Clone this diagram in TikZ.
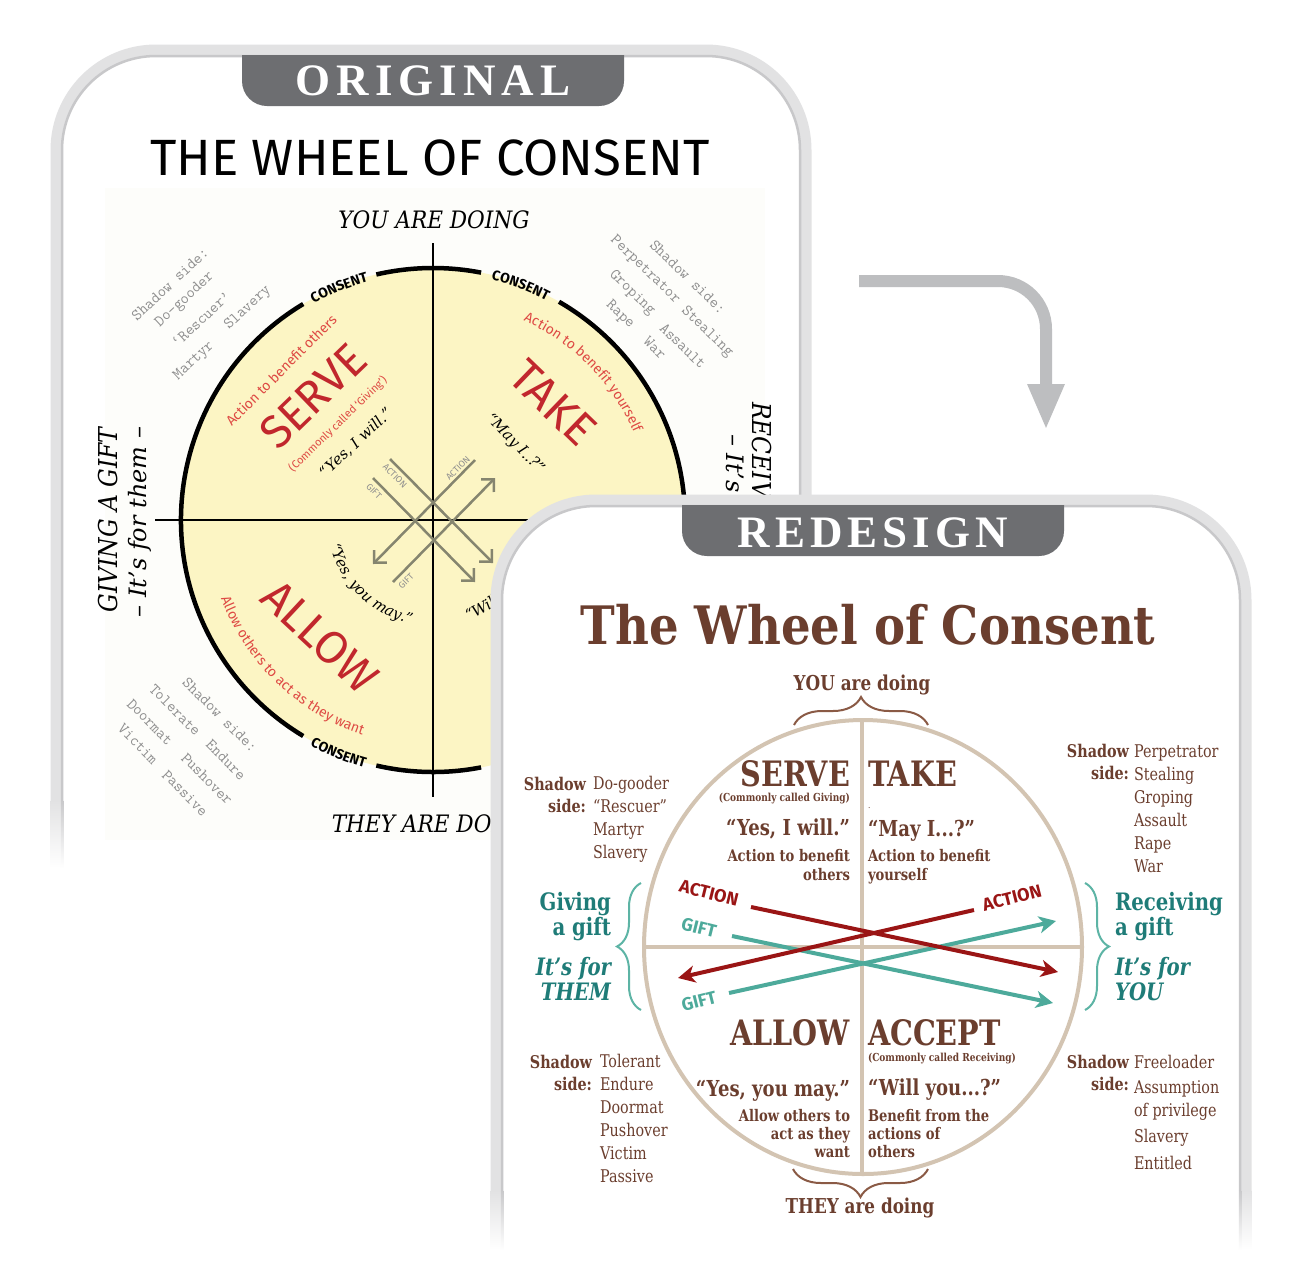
\documentclass[tikz,border=0pt]{standalone}
\usepackage{fontspec}
\setmainfont{DejaVu Serif}
\newfontfamily\libser{Liberation Serif}
\newfontfamily\fira{Fira Sans}
\usetikzlibrary{arrows.meta,decorations.text,decorations.pathreplacing}
\definecolor{brn}{HTML}{6B3E2E}
\definecolor{bracebrn}{HTML}{8A5A45}
\definecolor{tealT}{HTML}{1F7C78}
\definecolor{tealA}{HTML}{4DAA9B}
\definecolor{tealB}{HTML}{5DB4A5}
\definecolor{redA}{HTML}{9A1515}
\definecolor{tanw}{HTML}{D3C4B2}
\definecolor{tabgray}{HTML}{6D6E71}
\definecolor{rimlight}{HTML}{E2E2E3}
\definecolor{rimdark}{HTML}{C8C8CA}
\definecolor{arrowgray}{HTML}{BDBEC0}
\definecolor{wheelY}{HTML}{FCF5C4}
\definecolor{redO}{HTML}{C1272D}
\definecolor{redL}{HTML}{DE4A44}
\definecolor{shgray}{HTML}{8E8E8E}
\definecolor{olivegray}{HTML}{85856F}
\definecolor{cream}{HTML}{FDFDFA}
\newcommand\fsz[1]{\fontsize{#1}{#1}\selectfont}
\begin{document}
\begin{tikzpicture}[x=1pt,y=1pt,
  every node/.style={inner sep=0pt,outer sep=0pt},
  rimL/.style={draw=rimlight,line width=11pt},
  rimD/.style={draw=rimdark,line width=2.5pt},
  tablbl/.style={text=white,font=\libser\bfseries\fsz{45}},
  shd/.style={text=shgray,font=\ttfamily\fsz{16}},
  oq/.style={text=black,font=\itshape\fsz{15}},
  obig/.style={text=redO,font=\fira\fsz{46}},
  osm/.style={text=redL,font=\fira\fsz{14}},
  olab/.style={text=shgray,font=\fira\fsz{9}},
  oarr/.style={draw=olivegray,line width=2.5pt,-{Straight Barb[length=9pt,width=18pt]}},
  rd/.style={text=brn,xscale=0.82},
  rbig/.style={rd,font=\bfseries\fsz{35}},
  rsub/.style={rd,font=\bfseries\fsz{11}},
  rquote/.style={rd,font=\bfseries\fsz{22}},
  ract/.style={rd,font=\bfseries\fsz{16}},
  rshl/.style={rd,font=\bfseries\fsz{17.5}},
  rshi/.style={rd,font=\fsz{17.5}},
  rdo/.style={rd,font=\bfseries\fsz{20.5}},
  rteal/.style={text=tealT,xscale=0.82,font=\bfseries\fsz{24}},
  rtealit/.style={text=tealT,xscale=0.82,font=\bfseries\itshape\fsz{24}},
  arrlbl/.style={font=\fira\bfseries\fsz{18}},
  rarr/.style={line width=4pt,-{Stealth[length=17pt,width=17pt,inset=5pt]}},
  tbrace/.style={draw=bracebrn,line width=2pt,decorate,decoration={brace,amplitude=28pt}},
  sbrace/.style={draw=tealB,line width=2pt,decorate,decoration={brace,amplitude=24pt}},
  cons/.style={decorate,decoration={text along path,text align=center,text={|\fira\bfseries\fsz{14}|CONSENT}}}
]
\fill[white] (0,0) rectangle (1301,-1283);
\useasboundingbox (0,0) rectangle (1301,-1283);

% ================= ORIGINAL CARD =================
\path[rimL,rounded corners=100pt] (56,-800) -- (56,-50) -- (806,-50) -- (806,-800);
\path[rimD,rounded corners=94pt] (62,-800) -- (62,-56) -- (800,-56) -- (800,-800);
\shade[top color=rimlight,bottom color=white] (50.5,-800) rectangle (61.5,-868);
\shade[top color=rimdark,bottom color=white] (60.75,-800) rectangle (63.25,-868);

\begin{scope}
\clip (242,-55) rectangle (624,-110);
\fill[tabgray,rounded corners=25pt] (242,-20) rectangle (624,-106);
\end{scope}
\node[tablbl,anchor=base] (origlbl) at (433,-95) {O\kern6pt R\kern6pt I\kern6pt G\kern6pt I\kern6pt N\kern6pt A\kern6pt L};

\node[font=\fira\fsz{51},anchor=base] (otitle) at (430,-175) {THE WHEEL OF CONSENT};

\fill[cream] (105,-188) rectangle (765,-840);

% wheel
\fill[wheelY] (433,-520) circle[radius=252pt];
\begin{scope}[shift={(433,-520)}]
\draw[line width=4.5pt] (121:252pt) arc[start angle=121,end angle=239,radius=252pt];
\draw[line width=4.5pt] (79:252pt) arc[start angle=79,end angle=103,radius=252pt];
\draw[line width=4.5pt] (-60:252pt) arc[start angle=-60,end angle=60,radius=252pt];
\draw[line width=4.5pt] (-103:252pt) arc[start angle=-103,end angle=-79,radius=252pt];
\path[cons] (125:247pt) arc[start angle=125,end angle=99,radius=247pt];
\path[cons] (83:247pt) arc[start angle=83,end angle=56,radius=247pt];
\path[cons] (-125:257pt) arc[start angle=-125,end angle=-99,radius=257pt];
\path[cons] (-82:257pt) arc[start angle=-82,end angle=-56,radius=257pt];
\end{scope}
\draw[line width=2pt] (155,-520) -- (700,-520);
\draw[line width=2pt] (433,-243) -- (433,-797);

% red quadrant texts
\node[obig,rotate=44] (serveO) at (313,-396) {SERVE};
\node[obig,rotate=-44] (takeO) at (553,-403) {TAKE};
\node[obig,rotate=-43] (allowO) at (320,-637) {ALLOW};
\node[text=redL,font=\fira\fsz{11},rotate=44] (serveSub) at (338,-424) {(Commonly called ‘Giving’)};
\node[osm,rotate=45] (serveAct) at (281,-370) {Action to benefit others};
\begin{scope}[shift={(433,-520)}]
\path[decorate,decoration={text along path,text align=center,text color=redL,text={|\fira\fsz{14}|Action to benefit yourself}}]
  (75:219pt) arc[start angle=75,end angle=14,radius=219pt];
\path[decorate,decoration={text along path,text align=center,text color=redL,text={|\fira\fsz{14}|Allow others to act as they want}}]
  (-172:226pt) arc[start angle=-172,end angle=-96,radius=226pt];
\path[decorate,decoration={text along path,text align=center,text={|\itshape\fsz{15}|“Yes, you may.”}}]
  (-178:106pt) arc[start angle=-178,end angle=-90,radius=106pt];
\path[decorate,decoration={text along path,text align=center,text={|\itshape\fsz{15}|“Will you...?”}}]
  (-88:106pt) arc[start angle=-88,end angle=0,radius=106pt];
\end{scope}
\node[oq,rotate=43] (yesO) at (356,-443) {“Yes, I will.”};
\node[oq,rotate=-46] (mayO) at (515,-444) {“May I..?”};

% original arrows
\coordinate (oa1s) at (390,-459); \coordinate (oa1e) at (493,-563);
\coordinate (og1s) at (373,-478); \coordinate (og1e) at (475,-582);
\coordinate (oa2s) at (475,-460); \coordinate (oa2e) at (373,-564);
\coordinate (og2s) at (393,-582); \coordinate (og2e) at (495,-478);
\draw[oarr] (oa1s) -- (oa1e);
\draw[oarr] (og1s) -- (og1e);
\draw[oarr] (oa2s) -- (oa2e);
\draw[oarr] (og2s) -- (og2e);
\node[olab,rotate=-45] (oal1) at (395,-476) {ACTION};
\node[olab,rotate=-45] (ogl1) at (374,-491) {GIFT};
\node[olab,rotate=45] (oal2) at (458,-468) {ACTION};
\node[olab,rotate=45] (ogl2) at (406,-581) {GIFT};

% shadow sides (original)
\node[shd,rotate=43] (os1) at (170,-284) {Shadow side:};
\node[shd,rotate=43] (os2) at (185,-300) {Do-gooder};
\node[shd,rotate=43] (os3) at (201,-319) {‘Rescuer’};
\node[shd,rotate=43] (os4) at (194,-361) {Martyr};
\node[shd,rotate=43] (os5) at (248,-308) {Slavery};
\node[shd,rotate=-44] (ot1) at (688,-277) {Shadow side:};
\node[shd,rotate=-44] (ot2) at (645,-270) {Perpetrator};
\node[shd,rotate=-44] (ot3) at (707,-332) {Stealing};
\node[shd,rotate=-44] (ot4) at (632,-293) {Groping};
\node[shd,rotate=-44] (ot5) at (683,-346) {Assault};
\node[shd,rotate=-44] (ot6) at (620,-315) {Rape};
\node[shd,rotate=-44] (ot7) at (655,-348) {War};
\node[shd,rotate=-45] (ob1) at (220,-715) {Shadow side:};
\node[shd,rotate=-45] (ob2) at (175,-710) {Tolerate};
\node[shd,rotate=-45] (ob3) at (226,-760) {Endure};
\node[shd,rotate=-45] (ob4) at (150,-722) {Doormat};
\node[shd,rotate=-45] (ob5) at (207,-779) {Pushover};
\node[shd,rotate=-45] (ob6) at (138,-744) {Victim};
\node[shd,rotate=-45] (ob7) at (185,-793) {Passive};

% axis labels (original)
\node[font=\itshape\fsz{24},xscale=0.9,anchor=base] (youO) at (434,-228) {YOU ARE DOING};
\node[font=\itshape\fsz{24},xscale=0.9,anchor=base] (theyO) at (434,-832) {THEY ARE DOING};
\node[font=\itshape\fsz{26},rotate=90,xscale=0.9] (giveO) at (108,-520) {GIVING A GIFT};
\node[font=\itshape\fsz{24},rotate=90] (themO) at (140,-522) {– It’s for them –};
\node[font=\itshape\fsz{26},rotate=-90,xscale=0.9] (recvO) at (762,-520) {RECEIVING A GIFT};
\node[font=\itshape\fsz{24},rotate=-90] (foryouO) at (733,-520) {– It’s for you –};

% ================= REDESIGN CARD =================
\fill[white,rounded corners=100pt] (496,-1283) -- (496,-500) -- (1246,-500) -- (1246,-1283) -- cycle;
\path[rimL,rounded corners=100pt] (496,-1190) -- (496,-500) -- (1246,-500) -- (1246,-1190);
\path[rimD,rounded corners=94pt] (502,-1190) -- (502,-506) -- (1240,-506) -- (1240,-1190);
\shade[top color=rimlight,bottom color=white] (490.5,-1190) rectangle (501.5,-1250);
\shade[top color=rimdark,bottom color=white] (500.75,-1190) rectangle (503.25,-1250);
\shade[top color=rimlight,bottom color=white] (1240.5,-1190) rectangle (1251.5,-1250);
\shade[top color=rimdark,bottom color=white] (1238.75,-1190) rectangle (1241.25,-1250);

\begin{scope}
\clip (682,-505) rectangle (1064,-560);
\fill[tabgray,rounded corners=25pt] (682,-470) rectangle (1064,-556);
\end{scope}
\node[tablbl,anchor=base] (redlbl) at (873,-547) {R\kern5pt E\kern5pt D\kern5pt E\kern5pt S\kern5pt I\kern5pt G\kern5pt N};

\node[text=brn,font=\bfseries\fsz{53},xscale=0.88,anchor=base] (rtitle) at (868,-644) {The Wheel of Consent};

% wheel
\draw[tanw,line width=4pt] (863,-947) ellipse[x radius=219pt,y radius=227pt];
\draw[tanw,line width=3.5pt] (644,-947) -- (1082,-947);
\draw[tanw,line width=3.5pt] (862,-720) -- (862,-1174);

% braces
\draw[tbrace] (794,-725) -- (928,-725);
\draw[tbrace] (928,-1169) -- (793,-1169);
\draw[sbrace] (641,-1010) -- (641,-883);
\draw[sbrace] (1085,-883) -- (1085,-1010);
\node[rdo,anchor=base] (youdo) at (862,-690) {YOU are doing};
\node[rdo,anchor=base] (theydo) at (860,-1213) {THEY are doing};

% quadrant texts
\node[rbig,anchor=base east] (serve) at (850,-786) {SERVE};
\node[rbig,anchor=base west] (take) at (868,-786) {TAKE};
\node[rsub,anchor=base east] (serveS) at (850,-801) {(Commonly called Giving)};
\node[rd,font=\fsz{9},anchor=base west] (dotT) at (868,-808) {.};
\node[rquote,anchor=base east] (yesw) at (850,-835) {“Yes, I will.”};
\node[rquote,anchor=base west] (mayi) at (868,-836) {“May I...?”};
\node[ract,anchor=base east] (sa1) at (850,-861) {Action to benefit};
\node[ract,anchor=base east] (sa2) at (850,-880) {others};
\node[ract,anchor=base west] (ta1) at (868,-861) {Action to benefit};
\node[ract,anchor=base west] (ta2) at (868,-880) {yourself};
\node[rbig,anchor=base east] (allow) at (850,-1045) {ALLOW};
\node[rbig,anchor=base west] (accept) at (868,-1045) {ACCEPT};
\node[rsub,anchor=base west] (acceptS) at (868,-1061) {(Commonly called Receiving)};
\node[rquote,anchor=base east] (yesm) at (850,-1096) {“Yes, you may.”};
\node[rquote,anchor=base west] (willy) at (868,-1095) {“Will you...?”};
\node[ract,anchor=base east] (al1) at (850,-1121) {Allow others to};
\node[ract,anchor=base east] (al2) at (850,-1139) {act as they};
\node[ract,anchor=base east] (al3) at (850,-1157) {want};
\node[ract,anchor=base west] (ac1) at (868,-1121) {Benefit from the};
\node[ract,anchor=base west] (ac2) at (868,-1139) {actions of};
\node[ract,anchor=base west] (ac3) at (868,-1157) {others};

% shadow sides (redesign)
\node[rshl,anchor=base east] (tlS1) at (586,-790) {Shadow};
\node[rshl,anchor=base east] (tlS2) at (586,-812) {side:};
\foreach \n/\t/\y in {1/Do-gooder/789,2/{“Rescuer”}/812,3/Martyr/835,4/Slavery/858}
  \node[rshi,anchor=base west] (tl\n) at (593,-\y) {\t};
\node[rshl,anchor=base east] (trS1) at (1129,-757) {Shadow};
\node[rshl,anchor=base east] (trS2) at (1129,-779) {side:};
\foreach \n/\t/\y in {1/Perpetrator/757,2/Stealing/780,3/Groping/803,4/Assault/826,5/Rape/849,6/War/872}
  \node[rshi,anchor=base west] (tr\n) at (1134,-\y) {\t};
\node[rshl,anchor=base east] (blS1) at (592,-1068) {Shadow};
\node[rshl,anchor=base east] (blS2) at (592,-1090) {side:};
\foreach \n/\t/\y in {1/Tolerant/1067,2/Endure/1090,3/Doormat/1113,4/Pushover/1136,5/Victim/1159,6/Passive/1182}
  \node[rshi,anchor=base west] (bl\n) at (600,-\y) {\t};
\node[rshl,anchor=base east] (brS1) at (1129,-1068) {Shadow};
\node[rshl,anchor=base east] (brS2) at (1129,-1090) {side:};
\foreach \n/\t/\y in {1/Freeloader/1068,2/Assumption/1093,3/of privilege/1116,4/Slavery/1142,5/Entitled/1169}
  \node[rshi,anchor=base west] (br\n) at (1134,-\y) {\t};

% giving / receiving
\node[rteal,anchor=base east] (gv1) at (611,-910) {Giving};
\node[rteal,anchor=base east] (gv2) at (611,-935) {a gift};
\node[rtealit,anchor=base east] (gv3) at (611,-975) {It’s for};
\node[rtealit,anchor=base east] (gv4) at (611,-1000) {THEM};
\node[rteal,anchor=base west] (rc1) at (1115,-910) {Receiving};
\node[rteal,anchor=base west] (rc2) at (1115,-935) {a gift};
\node[rtealit,anchor=base west] (rc3) at (1115,-975) {It’s for};
\node[rtealit,anchor=base west] (rc4) at (1115,-1000) {YOU};

% arrows
\coordinate (ra1s) at (751,-907); \coordinate (ra1e) at (1058,-972);
\coordinate (ra2s) at (974,-910); \coordinate (ra2e) at (678,-978);
\coordinate (ta1s) at (732,-936); \coordinate (ta1e) at (1053,-1003);
\coordinate (ta2s) at (729,-993); \coordinate (ta2e) at (1056,-921);
\draw[rarr,tealA] (ta1s) -- (ta1e);
\draw[rarr,tealA] (ta2s) -- (ta2e);
\draw[rarr,redA] (ra1s) -- (ra1e);
\draw[rarr,redA] (ra2s) -- (ra2e);
\node[arrlbl,text=redA,rotate=-14] (actL) at (709,-893) {ACTION};
\node[arrlbl,text=redA,rotate=14] (actR) at (1012,-898) {ACTION};
\node[arrlbl,text=tealA,rotate=-14] (giftU) at (699,-928) {GIFT};
\node[arrlbl,text=tealA,rotate=14] (giftD) at (699,-1001) {GIFT};

% connector between cards
\coordinate (ca) at (859,-281);
\coordinate (cb) at (1046,-430);
\draw[arrowgray,line width=12pt,rounded corners=48pt,-{Triangle[length=46pt,width=34pt]}] (ca) -| (cb);
\end{tikzpicture}
\end{document}
